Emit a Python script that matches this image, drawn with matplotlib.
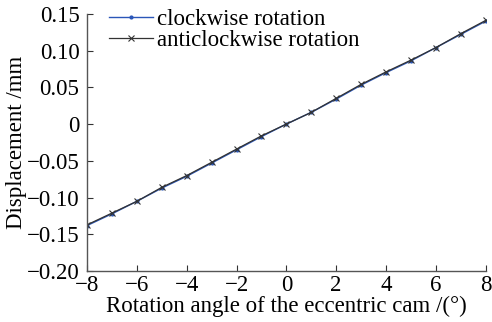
import numpy as np
import matplotlib
matplotlib.use("Agg")
import matplotlib.pyplot as plt

# rotation angle (deg) and measured displacement (mm)
angle = [-8, -7, -6, -5, -4, -3, -2, -1, 0, 1, 2, 3, 4, 5, 6, 7, 8]
cw_disp = [-0.138, -0.122, -0.105, -0.087, -0.071, -0.053, -0.035, -0.017, 0.0,
           0.016, 0.034, 0.053, 0.070, 0.086, 0.104, 0.122, 0.140]
acw_disp = [-0.137, -0.121, -0.105, -0.086, -0.070, -0.052, -0.034, -0.016, 0.0,
            0.016, 0.035, 0.054, 0.071, 0.087, 0.104, 0.123, 0.141]

xticks = [-8, -6, -4, -2, 0, 2, 4, 6, 8]
yticks = [-0.20, -0.15, -0.10, -0.05, 0, 0.05, 0.10, 0.15]
ylabels = ['\u22120.20', '\u22120.15', '\u22120.10', '\u22120.05', '0', '0.05', '0.10', '0.15']
xlabels = ['\u22128', '\u22126', '\u22124', '\u22122', '0', '2', '4', '6', '8']

plt.rcParams['font.family'] = ['Liberation Serif', 'DejaVu Serif']

fig = plt.figure(figsize=(4.92, 3.22), dpi=100)
ax = fig.add_axes([0.177, 0.158, 0.81, 0.799])

ax.plot(angle, cw_disp, color='#2a56b8', lw=1.0, marker='.', ms=4,
        label='clockwise rotation')
ax.plot(angle, acw_disp, color='#333333', lw=0.9, marker='x', ms=4, mew=0.8,
        label='anticlockwise rotation')

ax.set_xlim(-8, 8)
ax.set_ylim(-0.20, 0.15)
ax.set_xticks(xticks)
ax.set_xticklabels(xlabels)
ax.set_yticks(yticks)
ax.set_yticklabels(ylabels)
ax.tick_params(direction='in', length=4, width=0.8, labelsize=16.5, colors='#333333',
               labelcolor='black', pad=2.5)
ax.tick_params(axis='y', pad=5.5)

for side in ['top', 'right']:
    ax.spines[side].set_visible(False)
for side in ['left', 'bottom']:
    ax.spines[side].set_color('#555555')
    ax.spines[side].set_linewidth(1.0)

ax.set_xlabel('Rotation angle of the eccentric cam /(\u00b0)', fontsize=16.5, labelpad=0)
ax.set_ylabel('Displacement /mm', fontsize=16.5, labelpad=0)

ax.legend(loc='upper left', frameon=False, fontsize=16.5, handlelength=1.95,
          borderaxespad=0.0, labelspacing=0.0, handletextpad=0.17,
          bbox_to_anchor=(0.031, 1.056))

fig.savefig('out.png', dpi=100)
